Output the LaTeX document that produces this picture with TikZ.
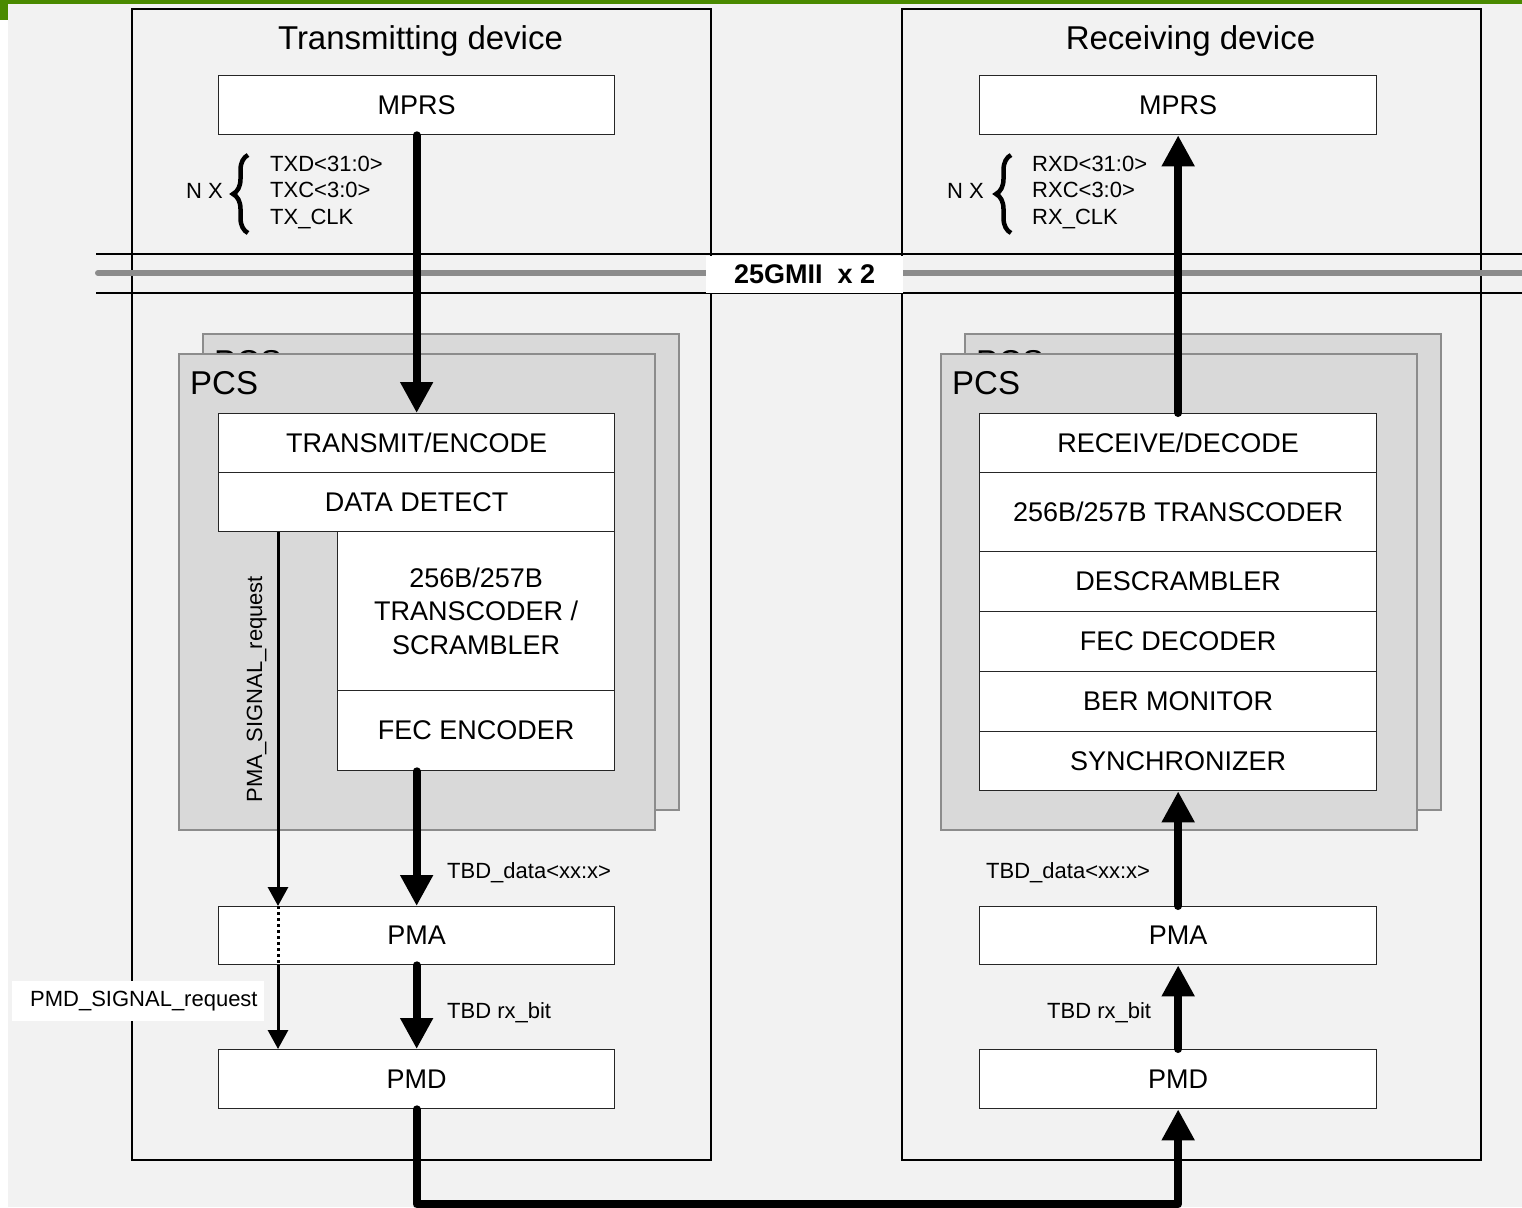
\documentclass[tikz,border=0pt]{standalone}
\usepackage{fontspec}
\setmainfont{Liberation Sans}
\usetikzlibrary{arrows.meta,decorations.pathreplacing}

\definecolor{pagegray}{HTML}{F2F2F2}
\definecolor{bargreen}{HTML}{4A8A00}
\definecolor{pcsfill}{HTML}{D9D9D9}
\definecolor{pcsline}{HTML}{8C8C8C}
\definecolor{busgray}{HTML}{8C8C8C}

\begin{document}
\begin{tikzpicture}[x=1pt,y=-1pt,
  device/.style={draw=black, line width=2pt, inner sep=0pt, anchor=north west},
  blk/.style={draw=black!85, line width=1.3pt, fill=white, inner sep=0pt,
    anchor=north west, align=center, font=\fontsize{27}{33.5}\selectfont},
  pcsbox/.style={draw=pcsline, line width=2pt, fill=pcsfill, inner sep=0pt,
    anchor=north west, minimum width=476pt, minimum height=476pt},
  pcslabel/.style={inner sep=0pt, anchor=base west, font=\fontsize{33}{40}\selectfont},
  devtitle/.style={inner sep=0pt, anchor=base, font=\fontsize{33}{40}\selectfont},
  sig/.style={inner sep=0pt, anchor=base west, font=\fontsize{22}{26.5}\selectfont},
  bigarrow/.style={line width=8pt, line cap=round, line join=round,
    -{Triangle[width=31pt,length=31pt]}},
  smallarrow/.style={line width=3pt, -{Triangle[width=20pt,length=19pt]}},
  bracepath/.style={line width=4.5pt, decorate, decoration={brace, amplitude=15pt}}
]
\useasboundingbox (0,0) rectangle (1522,1207);

% page background and green corner bar
\fill[pagegray] (8,4) rectangle (1522,1207);
\fill[bargreen] (0,0) rectangle (1522,4);
\fill[bargreen] (0,0) rectangle (8,20);

% the two devices
\node[device, minimum width=579pt, minimum height=1151pt] (txdev) at (131,8) {};
\node[device, minimum width=579pt, minimum height=1151pt] (rxdev) at (901,8) {};
\node[devtitle] (txtitle) at (420.5,49) {Transmitting device};
\node[devtitle] (rxtitle) at (1190.5,49) {Receiving device};

% 25GMII bus
\draw[line width=1.5pt] (96,254) -- (1522,254);
\draw[line width=1.5pt] (96,293) -- (1522,293);
\draw[busgray, line width=6pt, line cap=round] (98,273) -- (1526,273);
\node[fill=white, inner sep=0pt, anchor=north west, minimum width=197pt,
  minimum height=37pt, font=\bfseries\fontsize{27}{32}\selectfont]
  (gmii) at (706,255.5) {25GMII\ \ x 2};

% PCS stacks (two layers each)
\node[pcsbox] (pcsTback) at (202,333) {};
\node[pcslabel] (pcsTbacklbl) at (214,373) {PCS};
\node[pcsbox] (pcsT) at (178,353) {};
\node[pcslabel] (pcsTlbl) at (190,394) {PCS};

\node[pcsbox] (pcsRback) at (964,333) {};
\node[pcslabel] (pcsRbacklbl) at (976,373) {PCS};
\node[pcsbox] (pcsR) at (940,353) {};
\node[pcslabel] (pcsRlbl) at (952,394) {PCS};

% transmit side blocks
\node[blk, minimum width=396pt, minimum height=59pt] (mprsT) at (218,75) {MPRS};
\node[blk, minimum width=396pt, minimum height=59pt] (txenc) at (218,413) {TRANSMIT/ENCODE};
\node[blk, minimum width=396pt, minimum height=59pt] (datadet) at (218,472) {DATA DETECT};
\node[blk, minimum width=277pt, minimum height=159pt] (tcodeT) at (337,531)
  {256B/257B\\TRANSCODER /\\SCRAMBLER};
\node[blk, minimum width=277pt, minimum height=80pt] (fecenc) at (337,690) {FEC ENCODER};
\node[blk, minimum width=396pt, minimum height=58pt] (pmaT) at (218,906) {PMA};
\node[blk, minimum width=396pt, minimum height=59pt] (pmdT) at (218,1049) {PMD};

% receive side blocks
\node[blk, minimum width=397pt, minimum height=59pt] (mprsR) at (979,75) {MPRS};
\node[blk, minimum width=397pt, minimum height=59pt] (rxdec) at (979,413) {RECEIVE/DECODE};
\node[blk, minimum width=397pt, minimum height=79pt] (tcodeR) at (979,472) {256B/257B TRANSCODER};
\node[blk, minimum width=397pt, minimum height=60pt] (descr) at (979,551) {DESCRAMBLER};
\node[blk, minimum width=397pt, minimum height=60pt] (fecdec) at (979,611) {FEC DECODER};
\node[blk, minimum width=397pt, minimum height=60pt] (bermon) at (979,671) {BER MONITOR};
\node[blk, minimum width=397pt, minimum height=59pt] (sync) at (979,731) {SYNCHRONIZER};
\node[blk, minimum width=397pt, minimum height=58pt] (pmaR) at (979,906) {PMA};
\node[blk, minimum width=397pt, minimum height=59pt] (pmdR) at (979,1049) {PMD};

% MPRS interface signals
\node[sig] (nxT) at (186,198) {N X};
\draw[bracepath] (248,233) -- (248,155);
\node[sig] (txd) at (270,171) {TXD<31:0>};
\node[sig] (txc) at (270,197.5) {TXC<3:0>};
\node[sig] (txclk) at (270,224) {TX\_CLK};

\node[sig] (nxR) at (947,198) {N X};
\draw[bracepath] (1011,233) -- (1011,155);
\node[sig] (rxd) at (1032,171) {RXD<31:0>};
\node[sig] (rxc) at (1032,197.5) {RXC<3:0>};
\node[sig] (rxclk) at (1032,224) {RX\_CLK};

% transmit data path
\draw[bigarrow] (mprsT.south) -- (txenc.north);
\draw[bigarrow] (pmaT.north |- fecenc.south) -- (pmaT.north);
\draw[bigarrow] (pmaT.south) -- (pmdT.north);
\node[sig] (tbddataT) at (447,878) {TBD\_data<xx:x>};
\node[sig] (tbdbitT) at (447,1018) {TBD rx\_bit};

% signal requests
\coordinate (reqtop) at ([xshift=60pt]datadet.south west);
\coordinate (reqpmatop) at ([xshift=60pt]pmaT.north west);
\coordinate (reqpmabot) at ([xshift=60pt]pmaT.south west);
\coordinate (reqpmd) at ([xshift=60pt]pmdT.north west);
\draw[smallarrow] (reqtop) -- (reqpmatop);
\draw[line width=3pt, dash pattern=on 3pt off 3pt] (reqpmatop) -- (reqpmabot);
\draw[smallarrow] (reqpmabot) -- (reqpmd);
\node[inner sep=0pt, anchor=base, rotate=90, font=\fontsize{22}{26.5}\selectfont]
  (pmasig) at (262,689) {PMA\_SIGNAL\_request};
\node[fill=white, inner xsep=0pt, inner ysep=0pt, anchor=north west, minimum height=40pt,
  font=\fontsize{22}{26.5}\selectfont]
  (pmdsig) at (12,981) {\hspace*{18pt}PMD\_SIGNAL\_request\hspace*{6pt}};

% medium between the PMDs
\draw[bigarrow] (pmdT.south) -- ++(0,95) -| (pmdR.south);

% receive data path
\draw[bigarrow] (pmdR.north) -- (pmaR.south);
\draw[bigarrow] (pmaR.north) -- (sync.south);
\draw[bigarrow] (rxdec.north) -- (mprsR.south);
\node[sig] (tbddataR) at (986,878) {TBD\_data<xx:x>};
\node[sig] (tbdbitR) at (1047,1018) {TBD rx\_bit};
\end{tikzpicture}
\end{document}
